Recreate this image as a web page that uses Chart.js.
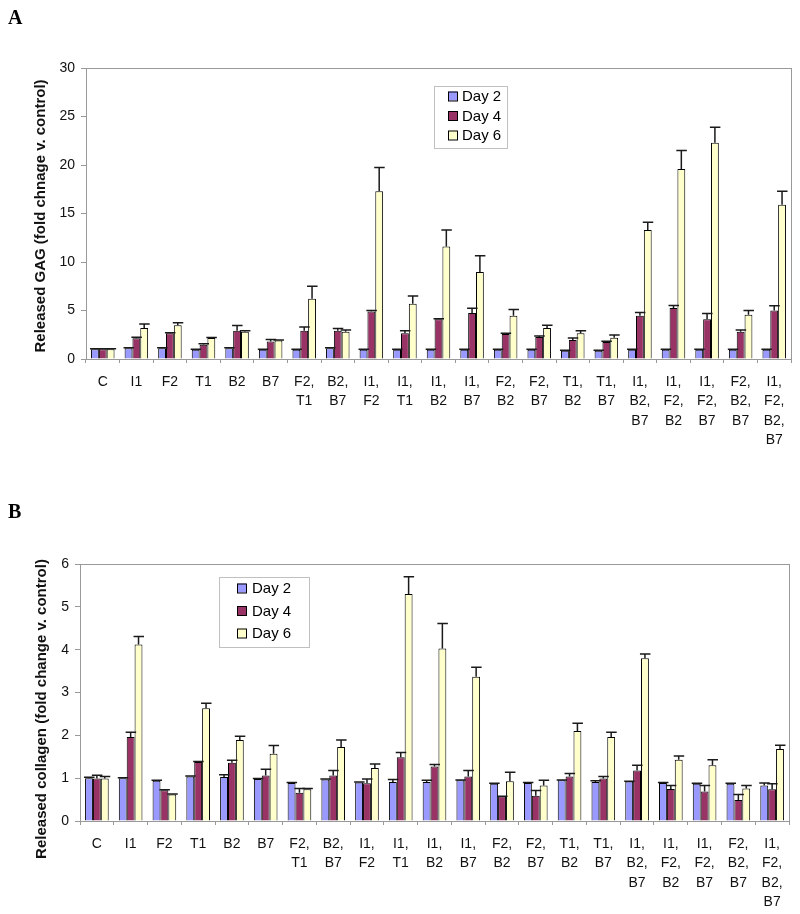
<!DOCTYPE html>
<html>
<head>
<meta charset="utf-8">
<script src="https://cdn.jsdelivr.net/npm/chart.js@4.4.0/dist/chart.umd.min.js"></script>
<style>
  body { margin: 0; background: #fff; }
  #wrap { position: relative; width: 800px; height: 914px; }
  canvas { position: absolute; left: 0; }
  .panel { position: absolute; left: 8px; font: bold 20px "Liberation Serif", "Times New Roman", serif; color: #000; }
</style>
</head>
<body>
<div id="wrap">
  <canvas id="chartA" width="800" height="465" style="top:0"></canvas>
  <canvas id="chartB" width="800" height="449" style="top:465px"></canvas>
  <div class="panel" style="top:6px">A</div>
  <div class="panel" style="top:500px">B</div>
</div>
<script>
const FONT = '"Liberation Sans", Arial, sans-serif';

const categories = [
  "C", "I1", "F2", "T1", "B2", "B7",
  ["F2,", "T1"], ["B2,", "B7"], ["I1,", "F2"], ["I1,", "T1"], ["I1,", "B2"], ["I1,", "B7"],
  ["F2,", "B2"], ["F2,", "B7"], ["T1,", "B2"], ["T1,", "B7"],
  ["I1,", "B2,", "B7"], ["I1,", "F2,", "B2"], ["I1,", "F2,", "B7"], ["F2,", "B2,", "B7"],
  ["I1,", "F2,", "B2,", "B7"]
];
const seriesNames = ["Day 2", "Day 4", "Day 6"];
const seriesColors = ["#9999FF", "#993366", "#FFFFCC"];

// Panel A: released GAG
const gagDay2 = [1.0, 1.1, 1.1, 0.95, 1.1, 0.95, 0.95, 1.1, 0.95, 0.95, 0.95, 0.95, 0.95, 0.95, 0.85, 0.85, 0.95, 0.95, 0.95, 0.95, 0.95];
const gagDay4 = [1.0, 2.15, 2.65, 1.48, 2.9, 1.8, 2.9, 2.9, 4.9, 2.65, 4.1, 4.74, 2.58, 2.27, 1.96, 1.75, 4.47, 5.26, 4.1, 2.8, 5.0];
const gagDay6 = [1.0, 3.2, 3.47, 2.16, 2.8, 1.9, 6.2, 2.8, 17.3, 5.7, 11.6, 8.97, 4.47, 3.2, 2.65, 2.2, 13.3, 19.6, 22.3, 4.57, 15.9];
const gagErr2 = [0.05, 0.05, 0.05, 0.05, 0.05, 0.05, 0.05, 0.05, 0.05, 0.05, 0.05, 0.05, 0.05, 0.05, 0.05, 0.05, 0.05, 0.05, 0.05, 0.05, 0.05];
const gagErr4 = [0.05, 0.1, 0.05, 0.08, 0.55, 0.2, 0.4, 0.25, 0.1, 0.25, 0.05, 0.5, 0.07, 0.1, 0.2, 0.07, 0.33, 0.25, 0.6, 0.2, 0.5];
const gagErr6 = [0.05, 0.4, 0.28, 0.05, 0.1, 0.05, 1.3, 0.2, 2.45, 0.8, 1.7, 1.68, 0.63, 0.27, 0.25, 0.27, 0.8, 1.9, 1.6, 0.43, 1.4];
const gagTicks = { min: 0, max: 30, step: 5 };

// Panel B: released collagen
const colDay2 = [1.0, 1.0, 0.94, 1.04, 1.03, 0.98, 0.89, 0.97, 0.9, 0.91, 0.91, 0.95, 0.87, 0.89, 0.95, 0.91, 0.92, 0.89, 0.87, 0.87, 0.83];
const colDay4 = [0.99, 1.96, 0.72, 1.38, 1.36, 1.06, 0.66, 1.06, 0.88, 1.49, 1.27, 1.04, 0.57, 0.59, 1.04, 0.99, 1.18, 0.75, 0.69, 0.49, 0.74];
const colDay6 = [0.99, 4.12, 0.62, 2.63, 1.89, 1.57, 0.74, 1.73, 1.24, 5.3, 4.03, 3.37, 0.93, 0.83, 2.1, 1.96, 3.8, 1.43, 1.3, 0.76, 1.68];
const colErr2 = [0.02, 0.01, 0.01, 0.01, 0.05, 0.01, 0.01, 0.01, 0.01, 0.06, 0.04, 0.01, 0.01, 0.01, 0.01, 0.03, 0.01, 0.01, 0.01, 0.01, 0.06];
const colErr4 = [0.08, 0.11, 0.01, 0.01, 0.06, 0.15, 0.1, 0.12, 0.1, 0.11, 0.05, 0.14, 0.01, 0.12, 0.07, 0.05, 0.12, 0.08, 0.14, 0.13, 0.13];
const colErr6 = [0.05, 0.19, 0.01, 0.12, 0.09, 0.19, 0.02, 0.16, 0.09, 0.4, 0.58, 0.22, 0.21, 0.12, 0.18, 0.11, 0.1, 0.09, 0.13, 0.07, 0.09];
const colTicks = { min: 0, max: 6, step: 1 };

// upward error bars, drawn from each bar's value through the y scale
const errorBars = {
  id: "errorBars",
  afterDatasetsDraw(chart) {
    const ctx = chart.ctx, y = chart.scales.y;
    ctx.save();
    ctx.strokeStyle = "#1a1a1a";
    ctx.lineWidth = 1.5;
    chart.data.datasets.forEach((ds, i) => {
      chart.getDatasetMeta(i).data.forEach((bar, j) => {
        const top = y.getPixelForValue(ds.data[j] + ds.errors[j]);
        ctx.beginPath();
        ctx.moveTo(bar.x, bar.y);
        ctx.lineTo(bar.x, top);
        ctx.moveTo(bar.x - 5, top);
        ctx.lineTo(bar.x + 5.5, top);
        ctx.stroke();
      });
    });
    ctx.restore();
  }
};

// grey frame round the plot area
const frame = {
  id: "frame",
  afterDraw(chart) {
    const a = chart.chartArea, ctx = chart.ctx;
    ctx.save();
    ctx.strokeStyle = "#999";
    ctx.lineWidth = 1;
    ctx.strokeRect(a.left + 0.5, a.top + 0.5, a.right - a.left, a.bottom - a.top);
    ctx.restore();
  }
};

// rotated y title, placed where the original put it
const axisTitle = {
  id: "axisTitle",
  afterDraw(chart, args, o) {
    const ctx = chart.ctx;
    ctx.save();
    ctx.translate(o.x, o.cy);
    ctx.rotate(-Math.PI / 2);
    ctx.font = "bold 15px " + FONT;
    ctx.fillStyle = "#111";
    ctx.textAlign = "center";
    ctx.textBaseline = "middle";
    ctx.fillText(o.text, 0, 0);
    ctx.restore();
  }
};

// boxed legend inside the plot
const boxLegend = {
  id: "boxLegend",
  afterDraw(chart, args, o) {
    const ctx = chart.ctx;
    ctx.save();
    ctx.fillStyle = "#fff";
    ctx.fillRect(o.x, o.y, o.w, o.h);
    ctx.strokeStyle = "#c0c0c0";
    ctx.lineWidth = 1;
    ctx.strokeRect(o.x + 0.5, o.y + 0.5, o.w, o.h);
    ctx.font = "15px " + FONT;
    ctx.textBaseline = "middle";
    chart.data.datasets.forEach((ds, i) => {
      const cy = o.y + o.top + i * o.gap;
      ctx.fillStyle = ds.backgroundColor;
      ctx.fillRect(o.x + o.sx, cy - 4.5, 9, 9);
      ctx.strokeStyle = "#000";
      ctx.strokeRect(o.x + o.sx + 0.5, cy - 4.5 + 0.5, 9, 9);
      ctx.fillStyle = "#000";
      ctx.fillText(ds.label, o.x + o.tx, cy + 1);
    });
    ctx.restore();
  }
};

function makeChart(id, values, errors, ticks, title, layout, legend) {
  return new Chart(document.getElementById(id), {
    type: "bar",
    data: {
      labels: categories,
      datasets: values.map((v, i) => ({
        label: seriesNames[i],
        data: v,
        errors: errors[i],
        backgroundColor: seriesColors[i],
        borderColor: "#000",
        borderWidth: 1,
        categoryPercentage: 0.7,
        barPercentage: 1.0
      }))
    },
    options: {
      responsive: false,
      animation: false,
      layout: { padding: { left: 0, right: layout.right, top: layout.top, bottom: 0 } },
      plugins: {
        legend: { display: false },
        tooltip: { enabled: false },
        boxLegend: legend,
        axisTitle: title
      },
      scales: {
        x: {
          ticks: { maxRotation: 0, minRotation: 0, autoSkip: false, color: "#111", padding: 9,
                   font: { family: FONT, size: 14, lineHeight: 1.4 } },
          grid: { drawOnChartArea: false, tickLength: 4, offset: true, color: "#999" },
          border: { color: "#999" },
          afterFit(s) { s.height = layout.xh; }
        },
        y: {
          min: ticks.min, max: ticks.max,
          ticks: { stepSize: ticks.step, color: "#111", padding: 6, font: { family: FONT, size: 14 } },
          grid: { drawOnChartArea: false, tickLength: 5, color: "#999" },
          border: { color: "#999" },
          afterFit(s) { s.width = layout.yw; }
        }
      }
    },
    plugins: [errorBars, frame, boxLegend, axisTitle]
  });
}

makeChart("chartA",
  [gagDay2, gagDay4, gagDay6], [gagErr2, gagErr4, gagErr6], gagTicks,
  { text: "Released GAG (fold chnage v. control)", x: 41, cy: 216 },
  { right: 9, top: 68, xh: 106, yw: 86 },
  { x: 434, y: 86, w: 73, h: 62, top: 10, gap: 19.5, sx: 14, tx: 28 });

makeChart("chartB",
  [colDay2, colDay4, colDay6], [colErr2, colErr4, colErr6], colTicks,
  { text: "Released collagen (fold change v. control)", x: 42, cy: 244 },
  { right: 11, top: 99, xh: 93, yw: 80 },
  { x: 219, y: 112, w: 90, h: 70, top: 11, gap: 22.5, sx: 18, tx: 33 });
</script>
</body>
</html>
